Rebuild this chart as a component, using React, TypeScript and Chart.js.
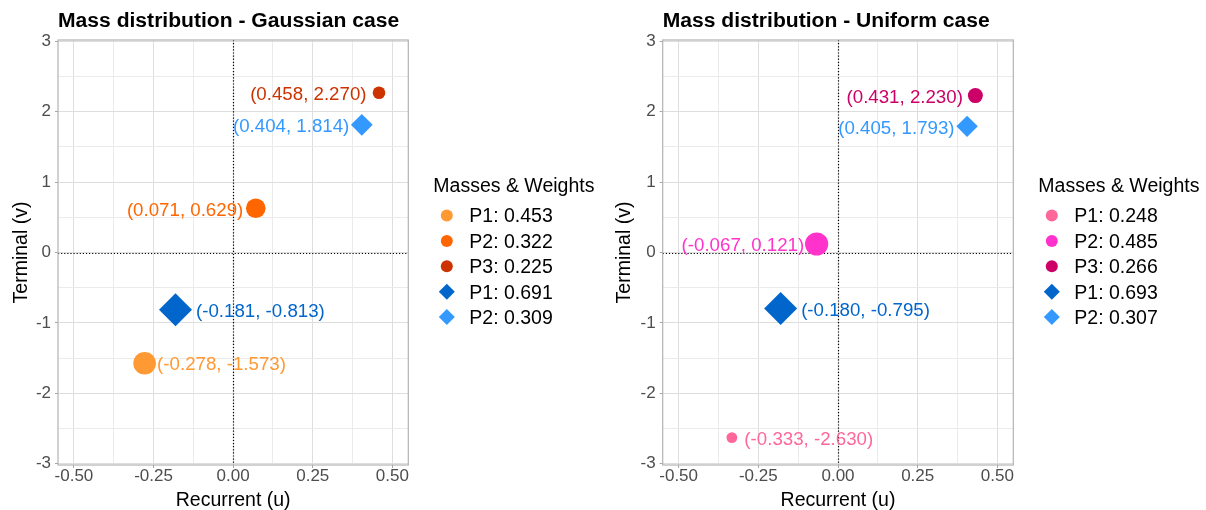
import React, { useEffect, useRef } from "react";
import { Chart, registerables } from "chart.js";

Chart.register(...registerables);

// ---------------- data ----------------
const gaussTitle = "Mass distribution - Gaussian case";
const unifTitle = "Mass distribution - Uniform case";
const xAxisTitle = "Recurrent (u)";
const yAxisTitle = "Terminal (v)";
const legendTitle = "Masses & Weights";

const xMajorTicks = [-0.5, -0.25, 0, 0.25, 0.5];
const xMinorTicks = [-0.375, -0.125, 0.125, 0.375];
const yMajorTicks = [-3, -2, -1, 0, 1, 2, 3];
const yMinorTicks = [-2.5, -1.5, -0.5, 0.5, 1.5, 2.5];

const massNames = ["P1", "P2", "P3"];
const weightNames = ["P1", "P2"];

const gaussMassX = [-0.278, 0.071, 0.458];
const gaussMassY = [-1.573, 0.629, 2.27];
const gaussMassW = [0.453, 0.322, 0.225];
const gaussWeightX = [-0.181, 0.404];
const gaussWeightY = [-0.813, 1.814];
const gaussWeightW = [0.691, 0.309];

const unifMassX = [-0.333, -0.067, 0.431];
const unifMassY = [-2.63, 0.121, 2.23];
const unifMassW = [0.248, 0.485, 0.266];
const unifWeightX = [-0.18, 0.405];
const unifWeightY = [-0.795, 1.793];
const unifWeightW = [0.693, 0.307];

// ---------------- styles ----------------
const FONT = "'Liberation Sans', Arial, Helvetica, sans-serif";
const gaussMassColors = ["#FF9933", "#FF6600", "#CC3300"];
const unifMassColors = ["#FF6699", "#FF33CC", "#CC0066"];
const weightColors = ["#0066CC", "#3399FF"];
const gaussMassRadii = [11.3, 9.8, 6.3];
const gaussWeightRadii = [16.5, 10.9];
const unifMassRadii = [5.4, 11.6, 7.5];
const unifWeightRadii = [16.5, 10.7];

const X_MIN = -0.55;
const X_MAX = 0.55;
const Y_MIN = -3.02;
const Y_MAX = 3.02;

const CANVAS_W = 603;
const CANVAS_H = 510;

type Spec = {
  title: string;
  massX: number[];
  massY: number[];
  massW: number[];
  weightX: number[];
  weightY: number[];
  weightW: number[];
  massColors: string[];
  massRadii: number[];
  weightRadii: number[];
  yAxisWidth: number;
  padRight: number;
};

const specs: Spec[] = [
  {
    title: gaussTitle,
    massX: gaussMassX,
    massY: gaussMassY,
    massW: gaussMassW,
    weightX: gaussWeightX,
    weightY: gaussWeightY,
    weightW: gaussWeightW,
    massColors: gaussMassColors,
    massRadii: gaussMassRadii,
    weightRadii: gaussWeightRadii,
    yAxisWidth: 58,
    padRight: CANVAS_W - 408.3,
  },
  {
    title: unifTitle,
    massX: unifMassX,
    massY: unifMassY,
    massW: unifMassW,
    weightX: unifWeightX,
    weightY: unifWeightY,
    weightW: unifWeightW,
    massColors: unifMassColors,
    massRadii: unifMassRadii,
    weightRadii: unifWeightRadii,
    yAxisWidth: 59.7,
    padRight: CANVAS_W - 410.3,
  },
];

const isIn = (arr: number[], v: number) => arr.some((a) => Math.abs(a - v) < 1e-9);

const decorPlugin = {
  id: "decor",
  beforeDatasetsDraw(chart: any) {
    const { ctx, chartArea: a, scales } = chart;
    const x0 = Math.round(scales.x.getPixelForValue(0)) + 0.5;
    const y0 = Math.round(scales.y.getPixelForValue(0)) + 0.5;
    ctx.save();
    ctx.strokeStyle = "#000000";
    ctx.lineWidth = 1.2;
    ctx.setLineDash([1.2, 1.9]);
    ctx.beginPath();
    ctx.moveTo(x0, a.top);
    ctx.lineTo(x0, a.bottom);
    ctx.moveTo(a.left, y0);
    ctx.lineTo(a.right, y0);
    ctx.stroke();
    ctx.restore();
  },
  afterDatasetsDraw(chart: any) {
    const { ctx, chartArea: a } = chart;
    ctx.save();
    // point labels
    const fs = 18.7;
    ctx.font = `${fs}px ${FONT}`;
    ctx.textBaseline = "alphabetic";
    chart.data.datasets.forEach((ds: any, i: number) => {
      const el = chart.getDatasetMeta(i).data[0];
      const d = ds.data[0];
      const text = `(${d.x.toFixed(3)}, ${d.y.toFixed(3)})`;
      const leftSide = d.x > -0.1;
      const off = ds.pointRadius > 14 ? ds.pointRadius + 4 : 12.5;
      ctx.fillStyle = ds.backgroundColor;
      ctx.textAlign = leftSide ? "right" : "left";
      ctx.fillText(text, el.x + (leftSide ? -off : off), el.y + 0.358 * fs + 0.6);
    });
    // panel border
    ctx.strokeStyle = "#b3b3b3";
    ctx.lineWidth = 1.2;
    ctx.setLineDash([]);
    ctx.strokeRect(a.left, a.top, a.right - a.left, a.bottom - a.top);
    ctx.restore();
  },
  afterDraw(chart: any, _args: any, opts: any) {
    const { ctx, chartArea: a } = chart;
    ctx.save();
    // title
    ctx.fillStyle = "#000";
    ctx.textAlign = "left";
    ctx.textBaseline = "alphabetic";
    ctx.font = `bold 21.1px ${FONT}`;
    ctx.fillText(opts.title, a.left, 26.5);
    // legend
    const cy = (a.top + a.bottom) / 2;
    const lx = a.right;
    const fs = 19.5;
    ctx.font = `${fs}px ${FONT}`;
    ctx.fillText(legendTitle, lx + 25, cy - 67.5 + 0.358 * fs);
    chart.data.datasets.forEach((ds: any, i: number) => {
      const ry = cy - 37 + i * 25.4;
      const sx = lx + 38.5;
      ctx.fillStyle = ds.backgroundColor;
      ctx.beginPath();
      if (ds.pointStyle === "circle") {
        ctx.arc(sx, ry, 6, 0, Math.PI * 2);
      } else {
        const r = 8;
        ctx.moveTo(sx - r, ry);
        ctx.lineTo(sx, ry - r);
        ctx.lineTo(sx + r, ry);
        ctx.lineTo(sx, ry + r);
        ctx.closePath();
      }
      ctx.fill();
      ctx.fillStyle = "#000";
      ctx.fillText(ds.label, lx + 61, ry + 0.358 * fs);
    });
    ctx.restore();
  },
};

function makeConfig(spec: Spec): any {
  const datasets: any[] = [];
  spec.massX.forEach((x, i) => {
    datasets.push({
      label: `${massNames[i]}: ${spec.massW[i].toFixed(3)}`,
      data: [{ x, y: spec.massY[i] }],
      pointStyle: "circle",
      pointRadius: spec.massRadii[i],
      backgroundColor: spec.massColors[i],
      borderColor: spec.massColors[i],
      borderWidth: 0,
    });
  });
  spec.weightX.forEach((x, i) => {
    datasets.push({
      label: `${weightNames[i]}: ${spec.weightW[i].toFixed(3)}`,
      data: [{ x, y: spec.weightY[i] }],
      pointStyle: "rectRot",
      pointRadius: spec.weightRadii[i],
      backgroundColor: weightColors[i],
      borderColor: weightColors[i],
      borderWidth: 0,
    });
  });

  const xAll = [...xMajorTicks, ...xMinorTicks].sort((a, b) => a - b);
  const yAll = [...yMajorTicks, ...yMinorTicks].sort((a, b) => a - b);

  return {
    type: "scatter",
    data: { datasets },
    plugins: [decorPlugin],
    options: {
      responsive: false,
      animation: false,
      devicePixelRatio: 1,
      events: [],
      layout: { padding: { left: 0, right: spec.padRight, top: 40, bottom: 0 } },
      plugins: {
        legend: { display: false },
        tooltip: { enabled: false },
        title: { display: false },
        decor: { title: spec.title },
      },
      scales: {
        x: {
          type: "linear",
          min: X_MIN,
          max: X_MAX,
          afterBuildTicks: (s: any) => {
            s.ticks = xAll.map((v) => ({ value: v }));
          },
          afterFit: (s: any) => {
            s.height = 45;
          },
          ticks: {
            autoSkip: false,
            maxRotation: 0,
            minRotation: 0,
            padding: 0,
            color: "#4d4d4d",
            font: { family: FONT, size: 17, lineHeight: 1 },
            callback: (v: number) => (isIn(xMajorTicks, v) ? v.toFixed(2) : ""),
          },
          grid: {
            color: (c: any) => (c.tick && isIn(xMajorTicks, c.tick.value) ? "#dedede" : "#ebebeb"),
            lineWidth: 1,
            drawTicks: true,
            tickLength: 3,
            tickWidth: 1,
            tickColor: (c: any) =>
              c.tick && isIn(xMajorTicks, c.tick.value) ? "#a6a6a6" : "rgba(0,0,0,0)",
          },
          border: { display: false },
          title: {
            display: true,
            text: xAxisTitle,
            color: "#000",
            font: { family: FONT, size: 19.5, lineHeight: 1 },
            padding: { top: 0, bottom: 0 },
          },
        },
        y: {
          type: "linear",
          min: Y_MIN,
          max: Y_MAX,
          afterBuildTicks: (s: any) => {
            s.ticks = yAll.map((v) => ({ value: v }));
          },
          afterFit: (s: any) => {
            s.width = spec.yAxisWidth;
          },
          ticks: {
            autoSkip: false,
            padding: 4,
            color: "#4d4d4d",
            font: { family: FONT, size: 17, lineHeight: 1 },
            callback: (v: number) => (isIn(yMajorTicks, v) ? String(v) : ""),
          },
          grid: {
            color: (c: any) => (c.tick && isIn(yMajorTicks, c.tick.value) ? "#dedede" : "#ebebeb"),
            lineWidth: 1,
            drawTicks: true,
            tickLength: 3,
            tickWidth: 1,
            tickColor: (c: any) =>
              c.tick && isIn(yMajorTicks, c.tick.value) ? "#a6a6a6" : "rgba(0,0,0,0)",
          },
          border: { display: false },
          title: {
            display: true,
            text: yAxisTitle,
            color: "#000",
            font: { family: FONT, size: 19.5, lineHeight: 1 },
            padding: { top: 11.5, bottom: 0 },
          },
        },
      },
    },
  };
}

function Panel({ spec, left }: { spec: Spec; left: number }) {
  const ref = useRef<HTMLCanvasElement>(null);
  useEffect(() => {
    const chart = new Chart(ref.current as HTMLCanvasElement, makeConfig(spec));
    return () => chart.destroy();
  }, [spec]);
  return (
    <canvas
      ref={ref}
      width={CANVAS_W}
      height={CANVAS_H}
      style={{ position: "absolute", left, top: 0, width: CANVAS_W, height: CANVAS_H }}
    />
  );
}

export default function App() {
  return (
    <div
      style={{
        position: "absolute",
        left: 0,
        top: 0,
        width: 1206,
        height: 510,
        background: "#ffffff",
        overflow: "hidden",
      }}
    >
      <Panel spec={specs[0]} left={0} />
      <Panel spec={specs[1]} left={603} />
    </div>
  );
}
